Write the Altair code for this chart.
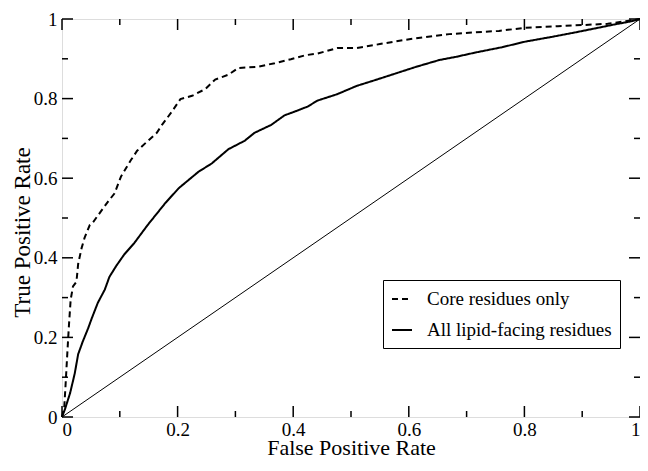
import altair as alt
import pandas as pd

# Core residues only (dashed)
core_fpr = [0, 0.004, 0.006, 0.0097, 0.012, 0.015, 0.019, 0.025, 0.028, 0.034, 0.039, 0.048,
            0.054, 0.079, 0.091, 0.102, 0.119, 0.130, 0.148, 0.164, 0.173, 0.190, 0.205, 0.225,
            0.248, 0.265, 0.288, 0.305, 0.339, 0.368, 0.396, 0.421, 0.442, 0.476, 0.510, 0.550,
            0.590, 0.630, 0.670, 0.710, 0.756, 0.801, 0.858, 0.904, 0.944, 0.978, 1.0]
core_tpr = [0, 0.027, 0.076, 0.173, 0.23, 0.295, 0.328, 0.34, 0.385, 0.425, 0.45, 0.482,
            0.49, 0.54, 0.562, 0.604, 0.645, 0.669, 0.693, 0.714, 0.734, 0.767, 0.799, 0.807,
            0.824, 0.848, 0.860, 0.877, 0.880, 0.889, 0.899, 0.909, 0.913, 0.927, 0.927, 0.937,
            0.947, 0.955, 0.962, 0.966, 0.970, 0.978, 0.982, 0.985, 0.988, 0.995, 1.0]

# All lipid-facing residues (solid)
all_fpr = [0, 0.005, 0.014, 0.022, 0.028, 0.036, 0.045, 0.051, 0.062, 0.074, 0.082, 0.094,
           0.108, 0.125, 0.148, 0.179, 0.202, 0.236, 0.259, 0.288, 0.316, 0.333, 0.362, 0.385,
           0.402, 0.425, 0.442, 0.476, 0.510, 0.545, 0.579, 0.613, 0.653, 0.682, 0.716, 0.761,
           0.801, 0.847, 0.887, 0.921, 0.955, 0.984, 1.0]
all_tpr = [0, 0.019, 0.060, 0.109, 0.158, 0.19, 0.222, 0.246, 0.287, 0.32, 0.352, 0.38,
           0.409, 0.437, 0.482, 0.538, 0.575, 0.616, 0.637, 0.673, 0.694, 0.714, 0.734, 0.758,
           0.767, 0.780, 0.795, 0.811, 0.832, 0.848, 0.864, 0.880, 0.897, 0.905, 0.916, 0.929,
           0.943, 0.955, 0.966, 0.976, 0.986, 0.994, 1.0]

diag_x = [0, 1]
diag_y = [0, 1]

series_names = ["Core residues only", "All lipid-facing residues"]
major_ticks = [0, 0.2, 0.4, 0.6, 0.8, 1]
minor_ticks = [0.1, 0.3, 0.5, 0.7, 0.9]

W, H = 578, 398
FONT = "Liberation Serif"

curves = pd.concat([
    pd.DataFrame({"fpr": core_fpr, "tpr": core_tpr, "series": series_names[0]}),
    pd.DataFrame({"fpr": all_fpr, "tpr": all_tpr, "series": series_names[1]}),
])
diag = pd.DataFrame({"fpr": diag_x, "tpr": diag_y})
major = pd.DataFrame({"fpr": major_ticks, "tpr": major_ticks})
minor = pd.DataFrame({"fpr": minor_ticks, "tpr": minor_ticks})

xs = alt.Scale(domain=[0, 1], nice=False, zero=False)
ys = alt.Scale(domain=[0, 1], nice=False, zero=False)

x_axis = alt.Axis(values=major_ticks, format=".1~f", ticks=False, domain=False, grid=False,
                  labelFontSize=19, labelPadding=3, labelColor="black",
                  title="False Positive Rate", titleFontSize=22, titleFontWeight="normal",
                  titleColor="black", titleBaseline="alphabetic", titleY=37,
                  labelFont=FONT, titleFont=FONT)
y_axis = alt.Axis(values=major_ticks, format=".1~f", ticks=False, domain=False, grid=False,
                  labelFontSize=19, labelPadding=5, labelColor="black",
                  title="True Positive Rate", titleFontSize=23, titleFontWeight="normal",
                  titleColor="black", titleBaseline="alphabetic", titleAngle=270,
                  titleX=-33, titleY=213, titleAlign="center",
                  labelFont=FONT, titleFont=FONT)

X = alt.X("fpr:Q", scale=xs, axis=x_axis)
Y = alt.Y("tpr:Q", scale=ys, axis=y_axis)

lines = alt.Chart(curves).mark_line(color="black", strokeWidth=2).encode(
    x=X,
    y=Y,
    strokeDash=alt.StrokeDash(
        "series:N",
        scale=alt.Scale(domain=series_names, range=[[6, 4], [1, 0]]),
        legend=alt.Legend(
            title=None, orient="none", legendX=321, legendY=261,
            strokeColor="black", padding=8, fillColor="white",
            symbolType="stroke", symbolSize=400, symbolStrokeWidth=2,
            symbolStrokeColor="black", labelFontSize=19, labelFont=FONT,
            labelColor="black", labelOffset=14, rowPadding=10, labelLimit=400,
        ),
    ),
    order=alt.Order("fpr:Q"),
)

diag_line = alt.Chart(diag).mark_line(color="black", strokeWidth=1).encode(x=X, y=Y)


def tick_layers(df, length):
    base = alt.Chart(df).mark_rule(color="black", strokeWidth=1.5)
    return [
        base.encode(x=X, y=alt.value(H), y2=alt.value(H - length)),
        base.encode(x=X, y=alt.value(0), y2=alt.value(length)),
        base.encode(y=Y, x=alt.value(0), x2=alt.value(length)),
        base.encode(y=Y, x=alt.value(W), x2=alt.value(W - length)),
    ]


chart = alt.layer(
    lines, diag_line, *tick_layers(major, 11), *tick_layers(minor, 6)
).properties(
    width=W, height=H,
    autosize=alt.AutoSizeParams(type="none"),
    padding={"left": 54, "top": 11, "right": 0, "bottom": 42},
).configure_view(
    stroke="black", strokeWidth=2
).configure(font=FONT, background="white")

chart.save("out.html", embed_options={"renderer": "svg", "actions": False})
